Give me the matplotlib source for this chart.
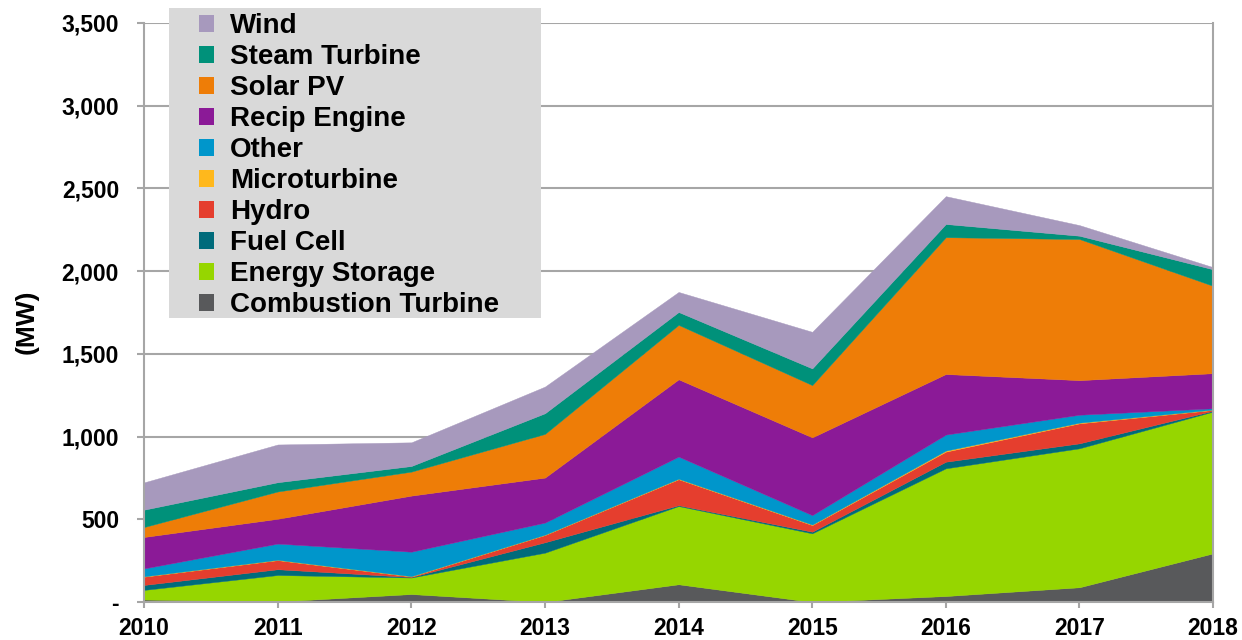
import matplotlib.pyplot as plt
from matplotlib.patches import Rectangle, Patch

plt.rcParams['font.family'] = ['Liberation Sans', 'DejaVu Sans']
plt.rcParams['font.weight'] = 'bold'

years = [2010, 2011, 2012, 2013, 2014, 2015, 2016, 2017, 2018]

# MW by technology
combustion = [15, 3, 48, 0, 107, 0, 36, 89, 294]
storage = [58, 160, 100, 298, 473, 415, 772, 840, 857]
fuel_cell = [30, 35, 3, 63, 5, 10, 40, 30, 5]
hydro = [50, 55, 3, 44, 157, 40, 61, 121, 5]
micro = [2, 2, 2, 2, 3, 3, 6, 4, 2]
other = [48, 98, 148, 73, 134, 57, 97, 48, 8]
recip = [190, 150, 339, 272, 467, 470, 366, 209, 212]
solar = [60, 165, 145, 264, 329, 316, 827, 853, 528]
steam = [105, 56, 34, 125, 78, 101, 80, 20, 100]
wind = [165, 228, 143, 161, 121, 221, 168, 64, 13]

names = ['Combustion Turbine', 'Energy Storage', 'Fuel Cell', 'Hydro',
         'Microturbine', 'Other', 'Recip Engine', 'Solar PV',
         'Steam Turbine', 'Wind']
colors = ['#58595B', '#96D600', '#006B7B', '#E53E2E', '#FFB81C',
          '#0096CB', '#8B1A97', '#EE7D07', '#00917A', '#A799BD']

yticks = [0, 500, 1000, 1500, 2000, 2500, 3000, 3500]
ylabels = ['-', '500', '1,000', '1,500', '2,000', '2,500', '3,000', '3,500']

fig = plt.figure(figsize=(12.42, 6.4), dpi=100)
ax = fig.add_axes([0.116, 0.0594, 0.8607, 0.9047])

polys = ax.stackplot(years, combustion, storage, fuel_cell, hydro, micro,
                     other, recip, solar, steam, wind, colors=colors,
                     linewidth=0.3, zorder=2)
for p, c in zip(polys, colors):
    p.set_edgecolor(c)

ax.set_xlim(2010, 2018)
ax.set_ylim(0, 3500)
ax.set_xticks(years)
ax.set_xticklabels([str(y) for y in years])
ax.set_yticks(yticks)
ax.set_yticklabels(ylabels)
ax.yaxis.grid(True, color='#A6A6A6', linewidth=1.5, zorder=0)
ax.set_axisbelow(True)
ax.tick_params(axis='both', labelsize=16.5, color='#A6A6A6', width=1.5, direction='out')
ax.tick_params(axis='x', length=4, pad=7)
ax.tick_params(axis='y', length=5, pad=13)
for s in ['left', 'bottom', 'right']:
    ax.spines[s].set_color('#A6A6A6')
    ax.spines[s].set_linewidth(1.5)
ax.spines['top'].set_visible(False)
fig.text(27 / 1242, 1 - 322 / 640, '(MW)', rotation=90, fontsize=19,
         fontweight='bold', ha='center', va='center')

# legend box
fig.patches.append(Rectangle((169 / 1242, 1 - 318 / 640), 372 / 1242, 310 / 640,
                             transform=fig.transFigure, facecolor='#D9D9D9',
                             edgecolor='none', zorder=3))
handles = [Patch(facecolor=c, edgecolor='none', label=n) for n, c in zip(names, colors)][::-1]
fig.legend(handles=handles, loc='upper left', bbox_to_anchor=(188 / 1242, 1 - 2 / 640),
           frameon=False, fontsize=20, handlelength=0.55, handleheight=0.55,
           handletextpad=0.55, labelspacing=0.18, borderaxespad=0)

fig.savefig('out.png', dpi=100)
